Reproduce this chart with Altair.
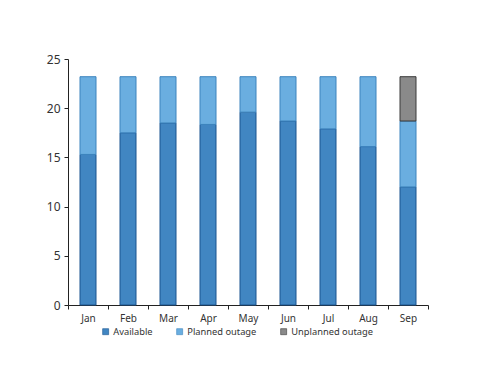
import altair as alt
import pandas as pd

months = ["Jan", "Feb", "Mar", "Apr", "May", "Jun", "Jul", "Aug", "Sep"]
available = [15.3, 17.5, 18.5, 18.35, 19.6, 18.7, 17.9, 16.1, 12.0]
planned = [7.9, 5.7, 4.7, 4.85, 3.6, 4.5, 5.3, 7.1, 6.7]
unplanned = [0, 0, 0, 0, 0, 0, 0, 0, 4.5]

series_names = ["Available", "Planned outage", "Unplanned outage"]
series_colors = ["#4186c2", "#6aaee0", "#8a8a8a"]
stroke_colors = ["#1a5590", "#3d84be", "#3a3a3a"]

rows = []
for i, m in enumerate(months):
    for k, (name, vals) in enumerate(zip(series_names, [available, planned, unplanned])):
        rows.append({"month": m, "series": name, "value": vals[i], "order": k})
df = pd.DataFrame(rows)

chart = alt.Chart(df).transform_filter(
    alt.datum.value > 0
).mark_bar(size=16, strokeWidth=1).encode(
    x=alt.X("month:N", sort=months, title=None,
            scale=alt.Scale(paddingInner=0, paddingOuter=0),
            axis=alt.Axis(labelAngle=0, tickBand="extent", labelPadding=4,
                          domainColor="#222", tickColor="#222", tickSize=4)),
    y=alt.Y("value:Q", stack="zero", title=None,
            scale=alt.Scale(domain=[0, 25]),
            axis=alt.Axis(values=[0, 5, 10, 15, 20, 25], grid=False, tickSize=4,
                          domainColor="#222", tickColor="#222", labelPadding=4,
                          labelFontSize=12)),
    color=alt.Color("series:N", sort=series_names,
                    scale=alt.Scale(domain=series_names, range=series_colors),
                    legend=alt.Legend(orient="none", legendX=33, legendY=268,
                                      direction="horizontal", title=None,
                                      symbolType="square", symbolSize=36,
                                      symbolStrokeColor="#333", symbolStrokeWidth=0.6,
                                      labelOffset=3,
                                      labelFontSize=9.3, columnPadding=22)),
    stroke=alt.Stroke("series:N", scale=alt.Scale(domain=series_names, range=stroke_colors),
                      legend=None),
    order=alt.Order("order:Q"),
).properties(
    width=360, height=246,
    padding={"left": 38, "top": 45, "right": 5, "bottom": 5},
).configure_view(stroke=None).configure_axis(
    labelFont="Noto Sans", labelColor="#333", labelFontSize=10
).configure_legend(labelFont="Noto Sans", labelColor="#333")

chart.save("out.html", embed_options={"renderer": "svg", "actions": False})
